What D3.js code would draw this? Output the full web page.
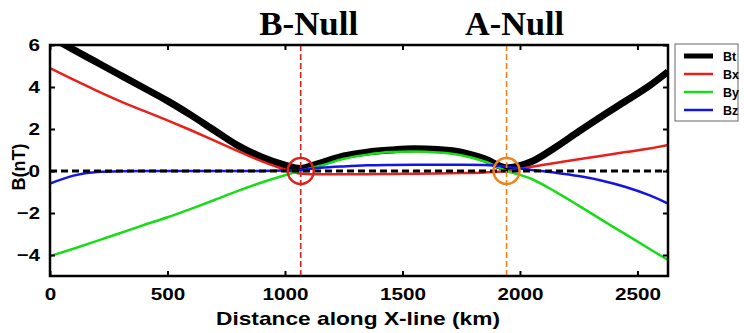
<!DOCTYPE html>
<html>
<head>
<meta charset="utf-8">
<script src="https://cdn.jsdelivr.net/npm/d3@7"></script>
<style>
  body { margin: 0; background: #fff; }
  svg { display: block; }
  .tick text { font-family: "Liberation Sans", Arial, sans-serif; font-weight: bold; font-size: 17px; }
</style>
</head>
<body>
<svg id="chart" width="744" height="333"></svg>
<script>
// distance along the X-line (km)
const distance = [0, 100, 200, 300, 400, 500, 600, 700, 800, 900, 1000, 1065, 1150, 1250, 1350, 1450, 1550, 1650, 1750, 1850, 1945, 2050, 2150, 2250, 2350, 2450, 2550, 2630];

// field components (nT)
const bt = [6.4, 5.78, 5.17, 4.56, 3.95, 3.34, 2.66, 1.93, 1.21, 0.67, 0.28, 0.12, 0.38, 0.72, 0.9, 1.0, 1.06, 1.02, 0.9, 0.58, 0.15, 0.45, 1.12, 1.88, 2.62, 3.33, 4.05, 4.73];
const bx = [4.9, 4.35, 3.82, 3.32, 2.86, 2.41, 1.94, 1.45, 0.95, 0.47, 0.07, -0.12, -0.16, -0.15, -0.15, -0.14, -0.13, -0.12, -0.1, -0.07, 0.0, 0.2, 0.38, 0.56, 0.73, 0.9, 1.07, 1.24];
const by = [-4.05, -3.7, -3.33, -2.95, -2.57, -2.2, -1.8, -1.38, -0.95, -0.55, -0.2, 0.0, 0.25, 0.58, 0.78, 0.9, 0.93, 0.88, 0.75, 0.45, 0.0, -0.38, -0.98, -1.65, -2.34, -3.02, -3.7, -4.24];
const bz = [-0.6, -0.22, -0.05, -0.01, 0.0, 0.0, 0.0, 0.0, 0.0, 0.0, 0.02, 0.05, 0.15, 0.22, 0.27, 0.29, 0.3, 0.3, 0.3, 0.28, 0.2, 0.05, -0.08, -0.24, -0.46, -0.76, -1.15, -1.55];

const seriesNames = ['Bt', 'Bx', 'By', 'Bz'];
const seriesValues = [bt, bx, by, bz];
const seriesColours = ['#000000', '#e8201c', '#19dc19', '#1414e6'];
const seriesWidths = [7, 2.5, 2.5, 2.5];

// null points
const nullNames = ['B-Null', 'A-Null'];
const nullPos = [1067, 1943];
const nullColours = ['#d9231f', '#f0821e'];

const xTicks = [0, 500, 1000, 1500, 2000, 2500];
const yTicks = [-4, -2, 0, 2, 4, 6];

//-------------------------------------------------------------------------------

const svg = d3.select('#chart');
const m = { left: 50, right: 668, top: 45, bottom: 276 };

const x = d3.scaleLinear().domain([0, 2630]).range([m.left, m.right]);
const y = d3.scaleLinear().domain([-5, 6]).range([m.bottom, m.top]);

svg.append('defs').append('clipPath').attr('id', 'plotclip')
    .append('rect')
    .attr('x', m.left).attr('y', m.top)
    .attr('width', m.right - m.left).attr('height', m.bottom - m.top);

const plot = svg.append('g').attr('clip-path', 'url(#plotclip)');

const line = vals => d3.line()
    .x((d, i) => x(distance[i]))
    .y(d => y(d))
    .curve(d3.curveMonotoneX)(vals);

seriesValues.forEach((vals, k) => {
    plot.append('path')
        .attr('d', line(vals))
        .attr('fill', 'none')
        .attr('stroke', seriesColours[k])
        .attr('stroke-width', seriesWidths[k])
        .attr('stroke-linejoin', 'round');
});

// zero line
plot.append('line')
    .attr('x1', x(0)).attr('x2', x(2630))
    .attr('y1', y(0)).attr('y2', y(0))
    .attr('stroke', '#000').attr('stroke-width', 3)
    .attr('stroke-dasharray', '7,4');

// null markers
nullPos.forEach((p, k) => {
    svg.append('line')
        .attr('x1', x(p)).attr('x2', x(p))
        .attr('y1', m.top).attr('y2', m.bottom)
        .attr('stroke', nullColours[k]).attr('stroke-width', 1.6)
        .attr('stroke-dasharray', '6,3');
    svg.append('circle')
        .attr('cx', x(p)).attr('cy', y(0)).attr('r', 13)
        .attr('fill', 'none')
        .attr('stroke', nullColours[k]).attr('stroke-width', 2.5);
    svg.append('text')
        .attr('x', x(p) + 8).attr('y', 35)
        .attr('text-anchor', 'middle')
        .attr('textLength', 99).attr('lengthAdjust', 'spacingAndGlyphs')
        .style('font-family', '"Liberation Serif", "Times New Roman", serif')
        .style('font-weight', 'bold')
        .style('font-size', '33px')
        .text(nullNames[k]);
});

// axes, ticks inward on all four sides
const axes = [
    [d3.axisBottom(x).tickValues(xTicks), m.bottom, 'x', true],
    [d3.axisTop(x).tickValues(xTicks), m.top, 'x', false],
    [d3.axisLeft(y).tickValues(yTicks), m.left, 'y', true],
    [d3.axisRight(y).tickValues(yTicks), m.right, 'y', false]
];
axes.forEach(([ax, pos, dim, labels]) => {
    ax.tickSizeInner(-5).tickSizeOuter(0).tickPadding(labels ? (dim == 'x' ? 12 : 10) : 0)
      .tickFormat(labels ? d3.format('d') : '');
    const g = svg.append('g')
        .attr('transform', dim == 'x' ? `translate(0,${pos})` : `translate(${pos},0)`)
        .call(ax);
    g.select('.domain').remove();
    g.selectAll('.tick line').attr('stroke', '#000').attr('stroke-width', 2);
    g.selectAll('.tick text').attr('fill', '#000')
        .attr('textLength', d => String(d).length * 11.5)
        .attr('lengthAdjust', 'spacingAndGlyphs');
});

svg.append('rect')
    .attr('x', m.left).attr('y', m.top)
    .attr('width', m.right - m.left).attr('height', m.bottom - m.top)
    .attr('fill', 'none').attr('stroke', '#000').attr('stroke-width', 2.5);

// axis labels
svg.append('text')
    .attr('x', 358).attr('y', 325)
    .attr('text-anchor', 'middle')
    .attr('textLength', 284).attr('lengthAdjust', 'spacingAndGlyphs')
    .style('font-family', '"Liberation Sans", Arial, sans-serif')
    .style('font-weight', 'bold').style('font-size', '19px')
    .text('Distance along X-line (km)');

svg.append('text')
    .attr('transform', 'translate(25,167) rotate(-90)')
    .attr('text-anchor', 'middle')
    .style('font-family', '"Liberation Sans", Arial, sans-serif')
    .style('font-weight', 'bold').style('font-size', '18px')
    .text('B(nT)');

// legend
const legend = svg.append('g').attr('transform', 'translate(675,44)');
legend.append('rect')
    .attr('width', 63).attr('height', 77)
    .attr('fill', '#fff').attr('stroke', '#666').attr('stroke-width', 1);
seriesNames.forEach((name, k) => {
    const ly = 12 + k * 18;
    legend.append('line')
        .attr('x1', 9).attr('x2', 38).attr('y1', ly).attr('y2', ly)
        .attr('stroke', seriesColours[k]).attr('stroke-width', k == 0 ? 5 : 2.5);
    legend.append('text')
        .attr('x', 48).attr('y', ly + 4.5)
        .style('font-family', '"Liberation Sans", Arial, sans-serif')
        .style('font-weight', 'bold').style('font-size', '12.5px')
        .text(name);
});
</script>
</body>
</html>
